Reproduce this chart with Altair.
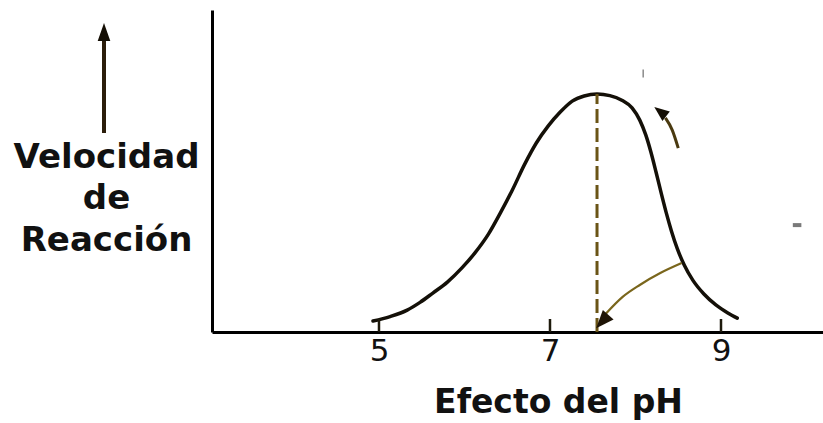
import altair as alt
import pandas as pd

# Reaction rate (relative units) against pH: bell-shaped enzyme activity curve
ph = [4.93, 5.13, 5.33, 5.48, 5.63, 5.80, 5.97, 6.12, 6.28, 6.42, 6.56, 6.70, 6.84, 6.98,
      7.12, 7.26, 7.40, 7.55, 7.70, 7.84, 7.96, 8.05, 8.12, 8.18, 8.24, 8.30, 8.36, 8.42,
      8.49, 8.57, 8.67, 8.80, 8.94, 9.08, 9.19]
rate = [3.4, 4.8, 6.8, 9.2, 12.1, 15.5, 19.9, 24.5, 30.4, 37.0, 44.1, 51.9, 58.7, 64.0,
        68.3, 71.7, 73.3, 73.9, 73.4, 72.0, 69.6, 65.8, 61.2, 55.9, 49.7, 43.2, 37.0, 31.4,
        25.8, 20.8, 16.1, 11.8, 8.4, 5.9, 4.3]

# Optimum pH marked by the dashed drop line
optimum_ph = 7.55
optimum_rate = max(rate)

# Axis tick values
tick_values = [5, 7, 9]

# Annotation arrow from the falling side of the curve down to the optimum pH
arrow_ph = [8.54, 8.29, 8.05, 7.85, 7.65]
arrow_rate = [21.4, 18.3, 14.6, 10.9, 5.6]
arrow_tip = (7.54, 1.2)

# Small curved arrow beside the peak
peak_arrow_ph = [8.50, 8.43, 8.35]
peak_arrow_rate = [57.1, 62.7, 66.5]
peak_arrow_tip = (8.22, 69.9)

# Stray pen marks on the page
marks_v = {"ph": [8.09], "lo": [79.0], "hi": [81.5]}
marks_h = {"ph": [9.84], "ph2": [9.94], "rate": [33.2]}

X_DOMAIN = [3.047, 10.193]
Y_DOMAIN = [0, 100]
PLOT_W, PLOT_H = 611, 322

INK = "#141008"
OLIVE = "#6a5416"
ARROW = "#7a661c"
HEAD = "M0,0 L0.8,2 L-0.8,2 Z"

xs = alt.Scale(domain=X_DOMAIN, nice=False, zero=False)
ys = alt.Scale(domain=Y_DOMAIN, nice=False, zero=False)

curve_df = pd.DataFrame({"ph": ph, "rate": rate})

x_axis = alt.Axis(
    values=tick_values, format="d", ticks=False, grid=False, domain=True,
    domainColor="#000000", domainWidth=3,
    labelFont="DejaVu Sans", labelFontSize=31, labelColor="#111111",
    labelBaseline="alphabetic", labelPadding=28, labelAngle=0,
    title="Efecto del pH", titleFont="DejaVu Sans", titleFontSize=33,
    titleFontWeight="bold", titleColor="#111111", titleX=346, titleY=80,
    titleAlign="center", titleBaseline="alphabetic",
)
y_axis = alt.Axis(
    ticks=False, labels=False, grid=False, domain=True,
    domainColor="#000000", domainWidth=3,
    title=["Velocidad", "de", "Reacción"], titleFont="DejaVu Sans",
    titleFontSize=34, titleFontWeight="bold", titleColor="#111111",
    titleAngle=0, titleAlign="center", titleBaseline="alphabetic",
    titleX=-106, titleY=157, titleLineHeight=41.5,
)

X = alt.X("ph:Q", scale=xs)
Y = alt.Y("rate:Q", scale=ys)

curve = alt.Chart(curve_df).mark_line(
    color=INK, strokeWidth=3.5, interpolate="monotone", strokeCap="round"
).encode(
    x=alt.X("ph:Q", scale=xs, axis=x_axis),
    y=alt.Y("rate:Q", scale=ys, axis=y_axis),
)

drop = alt.Chart(pd.DataFrame({"ph": [optimum_ph], "rate": [0.0], "top": [optimum_rate]})).mark_rule(
    color=OLIVE, strokeWidth=3, strokeDash=[14, 5]
).encode(x=X, y=Y, y2="top:Q")

# Short inward tick marks standing on the pH axis
ticks = alt.Chart(pd.DataFrame({"ph": tick_values})).mark_rule(
    color="#1e1a0c", strokeWidth=2.5
).encode(x=X, y=alt.value(PLOT_H - 13), y2=alt.value(PLOT_H))

arrow_df = pd.DataFrame({"ph": arrow_ph, "rate": arrow_rate, "i": range(len(arrow_ph))})
arrow = alt.Chart(arrow_df).mark_line(color=ARROW, strokeWidth=2.2, interpolate="monotone").encode(
    x=X, y=Y, order="i:Q"
)
arrow_head = alt.Chart(pd.DataFrame({"ph": [arrow_tip[0]], "rate": [arrow_tip[1]]})).mark_point(
    shape=HEAD, filled=True, size=324, angle=222, color="#1e1406", opacity=1
).encode(x=X, y=Y)

peak_df = pd.DataFrame({"ph": peak_arrow_ph, "rate": peak_arrow_rate, "i": range(len(peak_arrow_ph))})
peak_arrow = alt.Chart(peak_df).mark_line(color="#4a3a10", strokeWidth=3, interpolate="monotone").encode(
    x=X, y=Y, order="i:Q"
)
peak_head = alt.Chart(pd.DataFrame({"ph": [peak_arrow_tip[0]], "rate": [peak_arrow_tip[1]]})).mark_point(
    shape=HEAD, filled=True, size=225, angle=308, color="#140e04", opacity=1
).encode(x=X, y=Y)

stray_v = alt.Chart(pd.DataFrame({"ph": marks_v["ph"], "rate": marks_v["lo"], "hi": marks_v["hi"]})).mark_rule(
    color="#8a8a8a", strokeWidth=1.5
).encode(x=X, y=Y, y2="hi:Q")
stray_h = alt.Chart(pd.DataFrame(marks_h)).mark_rule(color="#7a7a7a", strokeWidth=4).encode(
    x=X, x2="ph2:Q", y=Y
)

# Upward arrow beside the rate label (drawn in the left margin, in pixels)
one = pd.DataFrame({"k": [0]})
up_shaft = alt.Chart(one).mark_rule(color="#2b1d0a", strokeWidth=4).encode(
    x=alt.value(-108), y=alt.value(30), y2=alt.value(123)
)
up_head = alt.Chart(one).mark_point(
    shape="M0,0 L0.7,2 L-0.7,2 Z", filled=True, size=324, color="#140e04", opacity=1
).encode(x=alt.value(-108), y=alt.value(13))

chart = alt.layer(
    curve, drop, ticks, arrow, arrow_head, peak_arrow, peak_head, stray_v, stray_h, up_shaft, up_head
).properties(
    width=PLOT_W, height=PLOT_H,
    autosize=alt.AutoSizeParams(type="none"),
    padding={"left": 212, "top": 10, "right": 0, "bottom": 91},
    background="#ffffff",
).configure_view(stroke=None, strokeWidth=0)

chart.save("out.html", embed_options={"renderer": "svg", "actions": False})
